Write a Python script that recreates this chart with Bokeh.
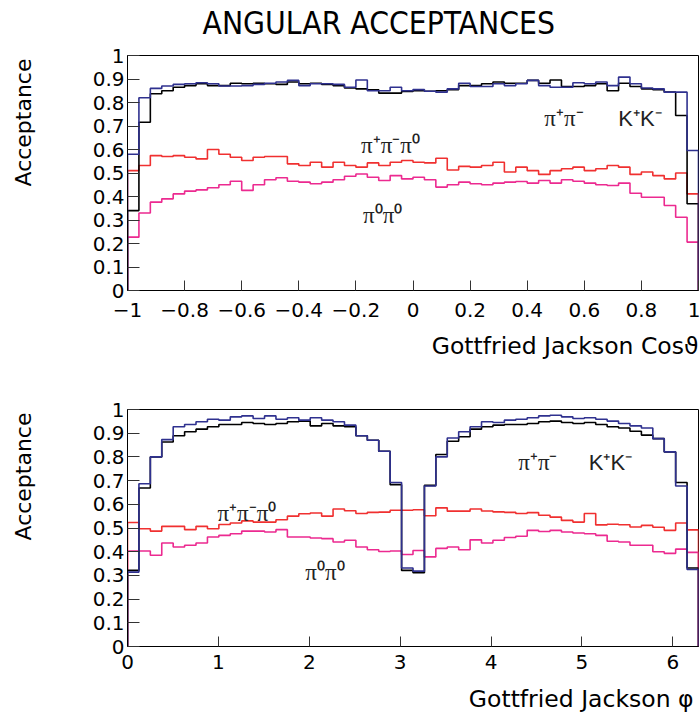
import math
import numpy as np
from bokeh.plotting import figure
from bokeh.layouts import column
from bokeh.models import Range1d, FixedTicker, Label, Title
from bokeh.embed import file_html
from bokeh.resources import INLINE

# ---------------- data ----------------
N_BINS = 50
cos_range = (-1.0, 1.0)
phi_range = (0.0, 2 * math.pi)

y_ticks = [0.0, 0.1, 0.2, 0.3, 0.4, 0.5, 0.6, 0.7, 0.8, 0.9, 1.0]
y_tick_labels = ["0", "0.1", "0.2", "0.3", "0.4", "0.5", "0.6", "0.7", "0.8", "0.9", "1"]
cos_ticks = [-1.0, -0.8, -0.6, -0.4, -0.2, 0.0, 0.2, 0.4, 0.6, 0.8, 1.0]
cos_tick_labels = ["\u22121", "\u22120.8", "\u22120.6", "\u22120.4", "\u22120.2", "0",
                   "0.2", "0.4", "0.6", "0.8", "1"]
phi_ticks = [0, 1, 2, 3, 4, 5, 6]
phi_tick_labels = ["0", "1", "2", "3", "4", "5", "6"]

# Gottfried Jackson cos(theta) acceptances (50 bins, -1 .. 1)
kk_cos = [0.34, 0.716, 0.837, 0.85, 0.865, 0.872, 0.88, 0.872, 0.872, 0.882,
          0.88, 0.882, 0.88, 0.877, 0.887, 0.88, 0.882, 0.877, 0.872, 0.862,
          0.858, 0.854, 0.84, 0.84, 0.847, 0.85, 0.848, 0.85, 0.854, 0.872,
          0.872, 0.88, 0.887, 0.882, 0.882, 0.894, 0.882, 0.896, 0.868, 0.868,
          0.872, 0.88, 0.85, 0.882, 0.868, 0.858, 0.854, 0.844, 0.745, 0.369]
pipi_cos = [0.58, 0.82, 0.86, 0.87, 0.877, 0.88, 0.884, 0.88, 0.87, 0.87,
            0.872, 0.877, 0.882, 0.887, 0.894, 0.872, 0.88, 0.88, 0.877, 0.865,
            0.896, 0.85, 0.85, 0.865, 0.85, 0.855, 0.848, 0.844, 0.858, 0.882,
            0.868, 0.868, 0.88, 0.872, 0.88, 0.894, 0.872, 0.865, 0.865, 0.884,
            0.88, 0.887, 0.872, 0.908, 0.88, 0.862, 0.858, 0.844, 0.844, 0.596]
pipipi0_cos = [0.51, 0.532, 0.574, 0.57, 0.574, 0.567, 0.56, 0.60, 0.58, 0.567,
               0.553, 0.567, 0.57, 0.57, 0.539, 0.532, 0.546, 0.525, 0.546, 0.532,
               0.525, 0.543, 0.532, 0.546, 0.553, 0.546, 0.543, 0.563, 0.513, 0.528,
               0.525, 0.532, 0.546, 0.504, 0.525, 0.51, 0.494, 0.51, 0.518, 0.525,
               0.51, 0.518, 0.532, 0.525, 0.494, 0.504, 0.489, 0.475, 0.5, 0.411]
pi0pi0_cos = [0.227, 0.33, 0.376, 0.39, 0.411, 0.423, 0.428, 0.437, 0.45, 0.465,
              0.426, 0.45, 0.471, 0.48, 0.465, 0.461, 0.454, 0.461, 0.471, 0.486,
              0.496, 0.482, 0.468, 0.489, 0.475, 0.482, 0.471, 0.44, 0.45, 0.461,
              0.454, 0.45, 0.457, 0.461, 0.464, 0.457, 0.468, 0.457, 0.471, 0.465,
              0.457, 0.45, 0.447, 0.457, 0.414, 0.397, 0.397, 0.362, 0.312, 0.206]

# Gottfried Jackson phi acceptances (50 bins, 0 .. 2pi)
kk_phi = [0.321, 0.669, 0.80, 0.863, 0.889, 0.906, 0.917, 0.927, 0.937, 0.937,
          0.945, 0.941, 0.937, 0.941, 0.948, 0.951, 0.931, 0.941, 0.931, 0.927,
          0.889, 0.87, 0.824, 0.683, 0.321, 0.311, 0.68, 0.81, 0.866, 0.885,
          0.917, 0.927, 0.934, 0.937, 0.937, 0.941, 0.948, 0.951, 0.945, 0.941,
          0.945, 0.937, 0.927, 0.922, 0.908, 0.892, 0.877, 0.821, 0.692, 0.331]
pipi_phi = [0.314, 0.687, 0.80, 0.873, 0.927, 0.937, 0.948, 0.959, 0.955, 0.969,
            0.973, 0.962, 0.973, 0.959, 0.965, 0.955, 0.965, 0.955, 0.948, 0.934,
            0.889, 0.870, 0.824, 0.692, 0.331, 0.318, 0.677, 0.80, 0.880, 0.906,
            0.927, 0.948, 0.945, 0.955, 0.959, 0.965, 0.973, 0.976, 0.969, 0.962,
            0.965, 0.959, 0.951, 0.941, 0.931, 0.922, 0.877, 0.821, 0.677, 0.325]
pipipi0_phi = [0.523, 0.497, 0.487, 0.507, 0.507, 0.493, 0.507, 0.497, 0.515, 0.521,
               0.53, 0.525, 0.525, 0.535, 0.55, 0.56, 0.563, 0.55, 0.58, 0.573,
               0.561, 0.566, 0.567, 0.575, 0.575, 0.577, 0.552, 0.585, 0.571, 0.571,
               0.58, 0.572, 0.568, 0.566, 0.561, 0.565, 0.554, 0.546, 0.532, 0.525,
               0.561, 0.513, 0.516, 0.514, 0.504, 0.511, 0.503, 0.49, 0.521, 0.492]
pi0pi0_phi = [0.403, 0.403, 0.385, 0.437, 0.42, 0.427, 0.437, 0.462, 0.469, 0.476,
              0.487, 0.487, 0.483, 0.493, 0.462, 0.462, 0.458, 0.455, 0.441, 0.448,
              0.42, 0.408, 0.401, 0.403, 0.388, 0.405, 0.378, 0.414, 0.42, 0.408,
              0.45, 0.437, 0.448, 0.46, 0.465, 0.49, 0.485, 0.49, 0.483, 0.479,
              0.476, 0.469, 0.444, 0.441, 0.427, 0.427, 0.4, 0.393, 0.411, 0.397]

# ---------------- style ----------------
C_BLACK = "#000000"
C_BLUE = "#2f318f"
C_RED = "#f03030"
C_PINK = "#ec2a90"
TICK_FONT = "DejaVu Sans"
LAB_FONT = "DejaVu Sans"
TITLE_FONT = "DejaVu Sans Condensed, Liberation Sans, sans-serif"


def outline(edges, vals):
    xs = [edges[0]]
    ys = [0.0]
    for i, v in enumerate(vals):
        xs += [edges[i], edges[i + 1]]
        ys += [v, v]
    xs.append(edges[-1])
    ys.append(0.0)
    return xs, ys


def reserve_gap(ax, gap):
    # a blank, tiny axis label only reserves room between the tick labels and a title
    ax.axis_label = " "
    ax.axis_label_text_font_size = "1px"
    ax.axis_label_standoff = gap


def make_fig(height, b_top, b_bottom, xr, xticks, xlabels, x_standoff, x_gap):
    p = figure(width=700, height=height, x_range=Range1d(*xr), y_range=Range1d(0, 1),
               output_backend="svg", toolbar_location=None,
               min_border_left=127, min_border_right=2,
               min_border_top=b_top, min_border_bottom=b_bottom)
    p.grid.visible = False
    p.outline_line_color = "black"
    p.outline_line_width = 1
    p.outline_line_alpha = 1
    p.background_fill_color = "white"
    p.border_fill_color = "white"

    p.xaxis.ticker = FixedTicker(ticks=xticks)
    p.xaxis.major_label_overrides = dict(zip(xticks, xlabels))
    p.yaxis.ticker = FixedTicker(ticks=y_ticks)
    p.yaxis.major_label_overrides = dict(zip(y_ticks, y_tick_labels))
    for ax in (p.xaxis, p.yaxis):
        ax.minor_tick_line_color = None
        ax.major_tick_out = 0
        ax.major_tick_line_color = "#333333"
        ax.axis_line_color = "black"
        ax.major_label_text_font = TICK_FONT
        ax.major_label_text_font_size = "20px"
        ax.major_label_text_color = "black"
    p.xaxis.major_tick_in = 10
    p.yaxis.major_tick_in = 12
    p.xaxis.major_label_standoff = x_standoff
    p.yaxis.major_label_standoff = 3
    reserve_gap(p.yaxis[0], 50)
    reserve_gap(p.xaxis[0], x_gap)

    # y axis title, placed near the top end of the axis
    p.add_layout(Title(text="Acceptance", align="right", offset=3, vertical_align="bottom",
                       standoff=0, text_font=LAB_FONT, text_font_size="22px",
                       text_font_style="normal", text_color="black"), "left")
    return p


def add_xtitle(p, text, offset):
    p.add_layout(Title(text=text, align="right", offset=offset, vertical_align="top",
                       standoff=0, text_font=LAB_FONT, text_font_size="23.5px",
                       text_font_style="normal", text_color="black"), "below")


def draw_hists(p, edges, series):
    for vals, col in series:
        xs, ys = outline(edges, vals)
        p.line(xs, ys, line_color=col, line_width=1.6)


def add_text(p, x, y, text, font, size):
    p.add_layout(Label(x=x, y=y, text=text, text_font=font, text_font_size=size,
                       text_color="#222222", text_baseline="alphabetic"))


# ---------------- top panel ----------------
edges_cos = np.linspace(cos_range[0], cos_range[1], N_BINS + 1)
p1 = make_fig(375, 55, 85, cos_range, cos_ticks, cos_tick_labels, 12, 8)
draw_hists(p1, edges_cos, [(pipipi0_cos, C_RED), (pi0pi0_cos, C_PINK),
                           (kk_cos, C_BLACK), (pipi_cos, C_BLUE)])

p1.title.text = ""
# blank spacer title keeps the main title a little above the frame
p1.add_layout(Title(text=" ", standoff=12, text_font_size="1px"), "above")
p1.add_layout(Title(text="ANGULAR ACCEPTANCES", align="left", offset=75,
                    vertical_align="bottom", standoff=0, text_font=TITLE_FONT,
                    text_font_size="31.5px", text_font_style="normal",
                    text_color="black"), "above")

add_xtitle(p1, "Gottfried Jackson Cos\u03d1", 0)
add_text(p1, -0.182, 0.617, "\u03c0\u207a\u03c0\u207b\u03c0\u2070", "Liberation Serif", "23px")
add_text(p1, -0.175, 0.319, "\u03c0\u2070\u03c0\u2070", "Liberation Serif", "23px")
add_text(p1, 0.46, 0.732, "\u03c0\u207a\u03c0\u207b", "Liberation Serif", "23px")
add_text(p1, 0.719, 0.732, "K\u207aK\u207b", "Liberation Sans", "22px")

# ---------------- bottom panel ----------------
edges_phi = np.linspace(phi_range[0], phi_range[1], N_BINS + 1)
p2 = make_fig(344, 34, 73, phi_range, phi_ticks, phi_tick_labels, 8, 9)
draw_hists(p2, edges_phi, [(pipipi0_phi, C_RED), (pi0pi0_phi, C_PINK),
                           (kk_phi, C_BLACK), (pipi_phi, C_BLUE)])

add_xtitle(p2, "Gottfried Jackson \u03c6", 5)
add_text(p2, 0.99, 0.562, "\u03c0\u207a\u03c0\u207b\u03c0\u2070", "Liberation Serif", "23px")
add_text(p2, 1.957, 0.313, "\u03c0\u2070\u03c0\u2070", "Liberation Serif", "23px")
add_text(p2, 4.30, 0.777, "\u03c0\u207a\u03c0\u207b", "Liberation Serif", "23px")
add_text(p2, 5.075, 0.777, "K\u207aK\u207b", "Liberation Sans", "22px")

layout = column(p1, p2, spacing=0)
open("out.html", "w").write(file_html(layout, INLINE))
